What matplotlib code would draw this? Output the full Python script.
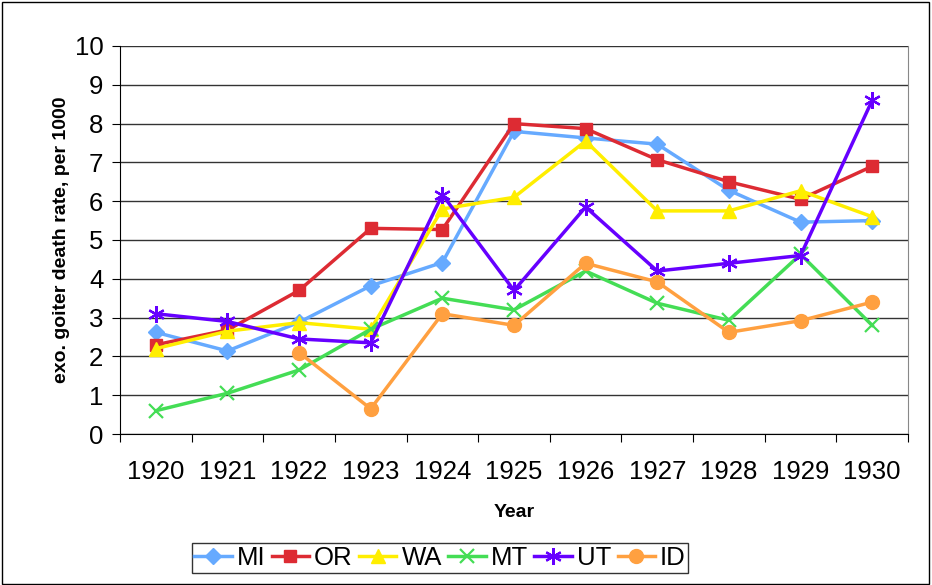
import numpy as np
import matplotlib.pyplot as plt
from matplotlib.patches import Rectangle

plt.rcParams['font.family'] = ['Liberation Sans', 'DejaVu Sans']

years = ['1920', '1921', '1922', '1923', '1924', '1925', '1926', '1927', '1928', '1929', '1930']

mi = [2.62, 2.14, 2.88, 3.82, 4.42, 7.80, 7.63, 7.47, 6.28, 5.46, 5.50]
orr = [2.30, 2.68, 3.70, 5.30, 5.27, 8.00, 7.87, 7.07, 6.50, 6.05, 6.90]
wa = [2.20, 2.65, 2.87, 2.70, 5.80, 6.10, 7.55, 5.75, 5.75, 6.27, 5.60]
mt = [0.60, 1.05, 1.65, 2.70, 3.50, 3.20, 4.20, 3.37, 2.93, 4.63, 2.80]
ut = [3.10, 2.90, 2.45, 2.35, 6.17, 3.70, 5.85, 4.20, 4.40, 4.60, 8.60]
idh = [np.nan, np.nan, 2.10, 0.65, 3.10, 2.80, 4.40, 3.92, 2.62, 2.92, 3.40]

series = [
    ('MI', mi, '#66AAFF', 'D', 8),
    ('OR', orr, '#DD2B33', 's', 9),
    ('WA', wa, '#FFEE00', '^', 10),
    ('MT', mt, '#44DD55', 'x', 10),
    ('UT', ut, '#6600FF', (6, 2, 0), 12),
    ('ID', idh, '#FFA040', 'o', 10),
]

fig = plt.figure(figsize=(9.32, 5.85), dpi=100)
fig.patches.append(Rectangle((0.002, 0.002), 0.995, 0.994, transform=fig.transFigure,
                             fill=False, edgecolor='black', linewidth=1))

ax = fig.add_axes([120 / 932, (585 - 434) / 585, (908 - 120) / 932, (434 - 46) / 585])

x = np.arange(len(years))
for name, vals, color, marker, ms in series:
    mew = 1.6 if marker in ('x', (6, 2, 0)) else 1
    ax.plot(x, vals, color=color, linewidth=2.5, marker=marker, markersize=ms,
            markeredgecolor=color, markerfacecolor=color, markeredgewidth=mew, label=name)

ax.set_xlim(-0.5, 10.5)
ax.set_ylim(0, 10)
ax.set_yticks(range(0, 11))
ax.set_yticklabels([str(v) for v in range(0, 11)], fontsize=18.5)
ax.set_xticks(np.arange(-0.5, 11, 1))
ax.set_xticklabels([])
ax.set_xticks(x, minor=True)
ax.set_xticklabels(years, minor=True, fontsize=18.5)
ax.tick_params(axis='x', which='minor', length=0, pad=19)
ax.tick_params(axis='x', which='major', length=6, color='black', direction='out')
ax.tick_params(axis='y', length=6, direction='out', pad=6)

ax.yaxis.grid(True, color='#333333', linewidth=1)
ax.set_axisbelow(True)
ax.spines['top'].set_visible(False)
ax.spines['right'].set_color('#888888')
ax.spines['left'].set_color('black')
ax.spines['bottom'].set_color('black')

ax.set_ylabel('exo. goiter death rate, per 1000', fontsize=14, fontweight='bold', labelpad=3)
ax.set_xlabel('Year', fontsize=14, fontweight='bold', labelpad=14)

leg = ax.legend(loc='center', bbox_to_anchor=(440 / 932, (585 - 558) / 585), bbox_transform=fig.transFigure,
                ncol=6, fontsize=18.5, frameon=True, fancybox=False, handlelength=1.45,
                handletextpad=0.2, columnspacing=0.25, borderpad=0.1, borderaxespad=0)
leg.get_frame().set_edgecolor('black')
leg.get_frame().set_linewidth(1)

fig.savefig('out.png', dpi=100)
